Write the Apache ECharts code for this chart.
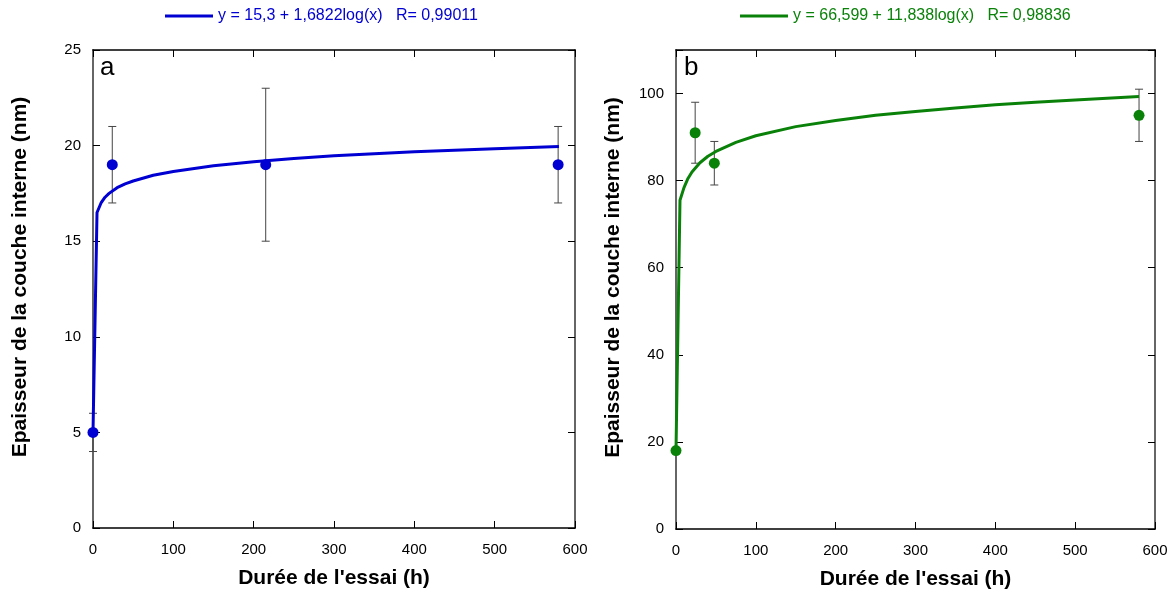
<!DOCTYPE html>
<html><head><meta charset="utf-8">
<script src="https://cdn.jsdelivr.net/npm/echarts@6/dist/echarts.min.js"></script>
<style>html,body{margin:0;padding:0;background:#fff}#c{width:1174px;height:595px}</style>
</head><body><div id="c"></div>
<script>
// Panel a
const aHours = [0, 24, 215, 579];
const aThick = [5, 19, 19, 19];
const aLow = [4, 17, 15, 17];
const aHigh = [6, 21, 23, 21];
const aFitX = [0, 5, 10, 15, 20, 30, 40, 50, 75, 100, 150, 200, 250, 300, 350, 400, 450, 500, 580];
const aFitY = [5, 16.5, 17.0, 17.3, 17.5, 17.8, 18.0, 18.15, 18.45, 18.65, 18.95, 19.15, 19.33, 19.47, 19.58, 19.68, 19.76, 19.84, 19.95];
const aLegend = 'y = 15,3 + 1,6822log(x)   R= 0,99011';
// Panel b
const bHours = [0, 24, 48, 580];
const bThick = [18, 91, 84, 95];
const bLow = [18, 84, 79, 89];
const bHigh = [18, 98, 89, 101];
const bFitX = [0, 5, 10, 15, 20, 30, 40, 50, 75, 100, 150, 200, 250, 300, 350, 400, 450, 500, 580];
const bFitY = [18, 75.5, 78.4, 80.5, 82.0, 84.1, 85.6, 86.7, 88.8, 90.3, 92.4, 93.8, 95.0, 95.9, 96.7, 97.4, 98.0, 98.5, 99.3];
const bLegend = 'y = 66,599 + 11,838log(x)   R= 0,98836';
// Axes
const xTicks = [0, 100, 200, 300, 400, 500, 600];
const aYMax = 25, bYMax = 110;
const xTitle = "Durée de l'essai (h)";
const yTitle = 'Epaisseur de la couche interne (nm)';

const blue = '#0000d2', green = '#0a820a';
const font = 'Liberation Sans, Arial, sans-serif';

function xAxes(gi) {
  return [{
    gridIndex: gi, type: 'value', min: 0, max: 600, interval: 100,
    name: xTitle, nameLocation: 'middle', nameGap: 40,
    nameTextStyle: {fontFamily: font, fontWeight: 'bold', fontSize: 21, color: '#000'},
    axisLine: {show: true, onZero: false, lineStyle: {color: '#000', width: 1.5}},
    axisTick: {show: true, inside: true, length: 7, lineStyle: {color: '#000'}},
    axisLabel: {fontFamily: font, fontSize: 15, color: '#000', margin: 14},
    splitLine: {show: false}
  }, {
    gridIndex: gi, type: 'value', min: 0, max: 600, interval: 100, position: 'top',
    axisLine: {show: true, onZero: false, lineStyle: {color: '#000', width: 1.5}},
    axisTick: {show: true, inside: true, length: 7, lineStyle: {color: '#000'}},
    axisLabel: {show: false}, splitLine: {show: false}
  }];
}
function yAxes(gi, max, interval, gap) {
  return [{
    gridIndex: gi, type: 'value', min: 0, max: max, interval: interval,
    name: yTitle, nameLocation: 'middle', nameGap: gap,
    nameTextStyle: {fontFamily: font, fontWeight: 'bold', fontSize: 21, color: '#000', padding: [0, 0, 0, 24]},
    axisLine: {show: true, onZero: false, lineStyle: {color: '#666', width: 2}},
    axisTick: {show: true, inside: true, length: 7, lineStyle: {color: '#000'}},
    axisLabel: {fontFamily: font, fontSize: 15, color: '#000', margin: 12,
      formatter: v => (v > 100 ? '' : String(v))},
    splitLine: {show: false}
  }, {
    gridIndex: gi, type: 'value', min: 0, max: max, interval: interval, position: 'right',
    axisLine: {show: true, onZero: false, lineStyle: {color: '#666', width: 2}},
    axisTick: {show: true, inside: true, length: 7, lineStyle: {color: '#000'}},
    axisLabel: {show: false}, splitLine: {show: false}
  }];
}
function errSeries(xi, yi, xs, lo, hi) {
  return {
    type: 'custom', xAxisIndex: xi, yAxisIndex: yi, z: 1, silent: true,
    data: xs.map((x, i) => [x, lo[i], hi[i]]),
    renderItem: function (params, api) {
      const p1 = api.coord([api.value(0), api.value(1)]);
      const p2 = api.coord([api.value(0), api.value(2)]);
      if (Math.abs(p1[1] - p2[1]) < 1) return null;
      const w = 4;
      const st = {stroke: '#444', lineWidth: 1};
      return {type: 'group', children: [
        {type: 'line', shape: {x1: p1[0], y1: p1[1], x2: p2[0], y2: p2[1]}, style: st},
        {type: 'line', shape: {x1: p1[0] - w, y1: p1[1], x2: p1[0] + w, y2: p1[1]}, style: st},
        {type: 'line', shape: {x1: p2[0] - w, y1: p2[1], x2: p2[0] + w, y2: p2[1]}, style: st}
      ]};
    }
  };
}

const chart = echarts.init(document.getElementById('c'), null, {renderer: 'canvas'});
chart.setOption({
  animation: false,
  backgroundColor: '#fff',
  grid: [
    {left: 93, right: 599, top: 50, bottom: 67},
    {left: 676, right: 19, top: 50, bottom: 66}
  ],
  legend: [
    {data: [aLegend], left: 165, top: 8, padding: 0, icon: 'rect', itemWidth: 48, itemHeight: 3, itemGap: 4,
      textStyle: {fontFamily: font, fontSize: 16, color: blue}},
    {data: [bLegend], left: 740, top: 8, padding: 0, icon: 'rect', itemWidth: 48, itemHeight: 3, itemGap: 4,
      textStyle: {fontFamily: font, fontSize: 16, color: green}}
  ],
  xAxis: [...xAxes(0), ...xAxes(1)],
  yAxis: [...yAxes(0, aYMax, 5, 62), ...yAxes(1, bYMax, 20, 52)],
  graphic: [
    {type: 'text', left: 100, top: 55, style: {text: 'a', fontFamily: font, fontSize: 26, fill: '#000'}},
    {type: 'text', left: 684, top: 55, style: {text: 'b', fontFamily: font, fontSize: 26, fill: '#000'}}
  ],
  series: [
    errSeries(0, 0, aHours, aLow, aHigh),
    {name: aLegend, type: 'line', xAxisIndex: 0, yAxisIndex: 0, z: 2, showSymbol: false, symbol: 'none',
      data: aFitX.map((x, i) => [x, aFitY[i]]), lineStyle: {color: blue, width: 3}, itemStyle: {color: blue}},
    {type: 'scatter', xAxisIndex: 0, yAxisIndex: 0, z: 3, symbolSize: 11,
      data: aHours.map((x, i) => [x, aThick[i]]), itemStyle: {color: blue, opacity: 1}},
    errSeries(2, 2, bHours, bLow, bHigh),
    {name: bLegend, type: 'line', xAxisIndex: 2, yAxisIndex: 2, z: 2, showSymbol: false, symbol: 'none',
      data: bFitX.map((x, i) => [x, bFitY[i]]), lineStyle: {color: green, width: 3}, itemStyle: {color: green}},
    {type: 'scatter', xAxisIndex: 2, yAxisIndex: 2, z: 3, symbolSize: 11,
      data: bHours.map((x, i) => [x, bThick[i]]), itemStyle: {color: green, opacity: 1}}
  ]
});
</script></body></html>
